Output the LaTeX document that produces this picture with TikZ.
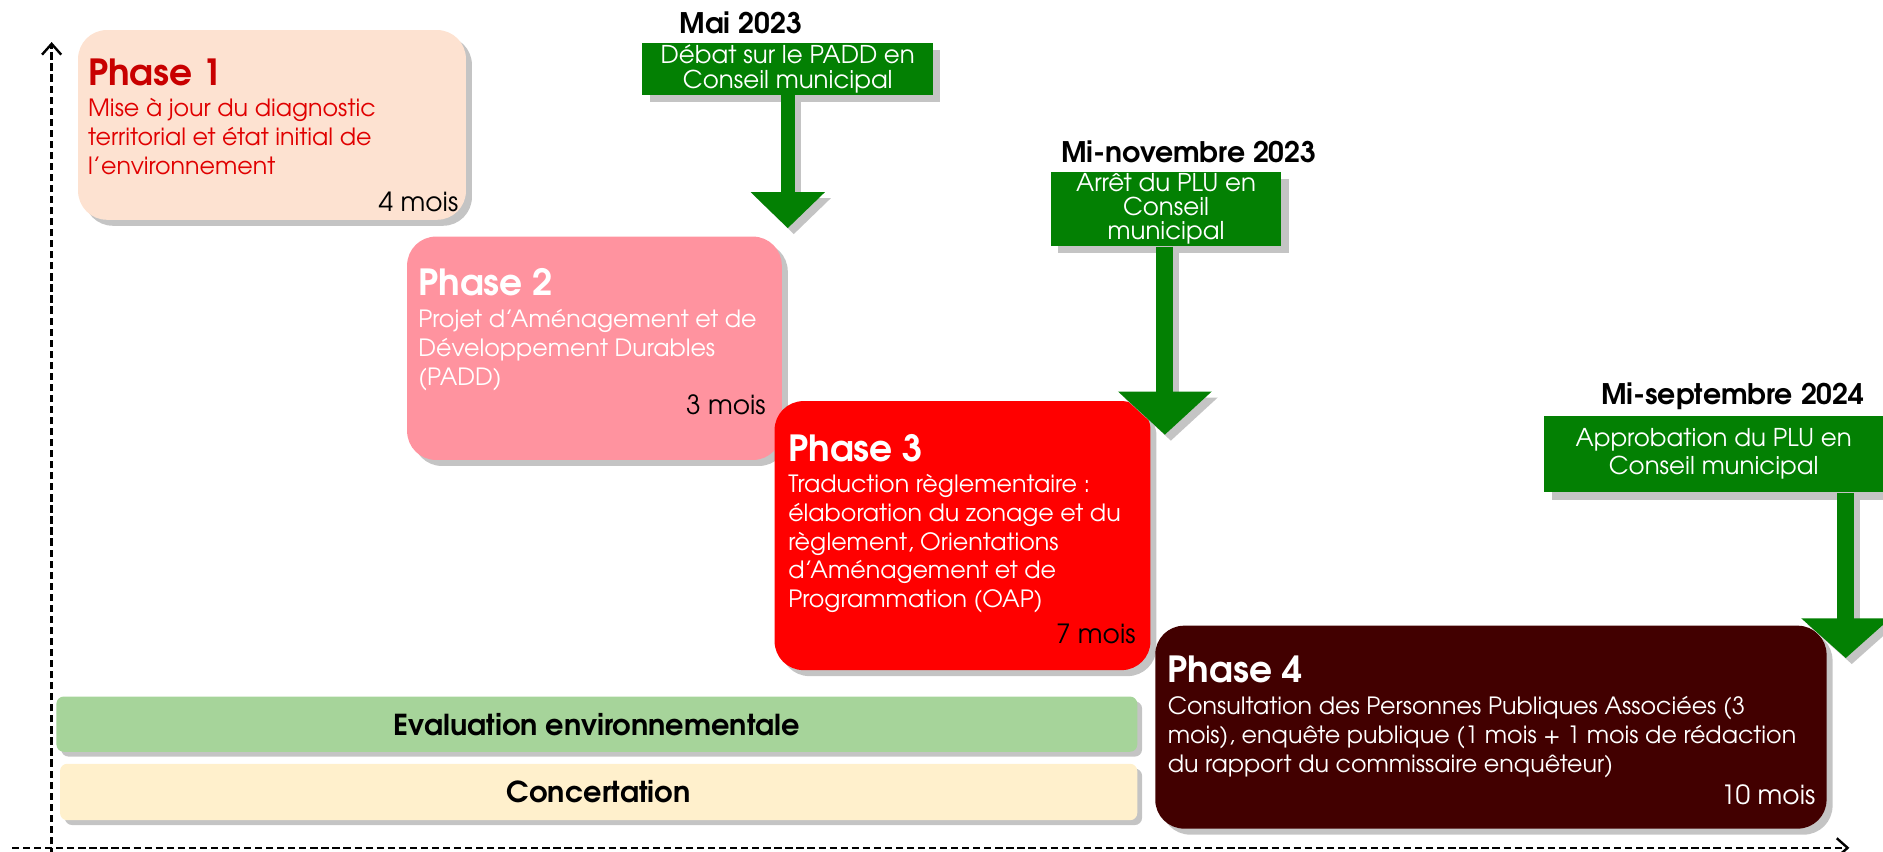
\documentclass[tikz,border=0pt]{standalone}
\usepackage{fontspec}
\setmainfont{TeX Gyre Adventor}
\usetikzlibrary{arrows.meta,shadows}
\definecolor{pone}{HTML}{FDE2D1}
\definecolor{ponetitle}{HTML}{C80000}
\definecolor{ponebody}{HTML}{E00000}
\definecolor{ptwo}{HTML}{FF939F}
\definecolor{pthree}{HTML}{FF0000}
\definecolor{pfour}{HTML}{420000}
\definecolor{gbox}{HTML}{038003}
\definecolor{evalc}{HTML}{A6D49A}
\definecolor{concc}{HTML}{FFF0CC}
\definecolor{shadowc}{HTML}{C4C4C4}
\newcommand\mylines[2][l]{\begin{tabular}[t]{@{}#1@{}}#2\end{tabular}}
\tikzset{
  phasebox/.style={rounded corners=12pt, inner sep=0pt,
    drop shadow={shadow xshift=2.5pt, shadow yshift=-2.5pt, fill=shadowc, opacity=1}},
  barbox/.style={rounded corners=3pt, inner sep=0pt, minimum width=450pt, minimum height=23pt,
    font=\fontsize{12}{14}\selectfont\bfseries,
    drop shadow={shadow xshift=2pt, shadow yshift=-2pt, fill=shadowc, opacity=1}},
  ttl/.style={inner sep=0pt, font=\fontsize{15}{18}\selectfont\bfseries},
  bdy/.style={inner sep=0pt, font=\fontsize{9.9}{12}\selectfont},
  mois/.style={inner sep=0pt, font=\fontsize{11}{13}\selectfont},
  datelbl/.style={inner sep=0pt, font=\fontsize{11.8}{14}\selectfont\bfseries},
  greenbox/.style={fill=gbox, text=white, inner sep=0pt, align=center,
    font=\fontsize{10.2}{10.5}\selectfont,
    drop shadow={shadow xshift=3pt, shadow yshift=-3pt, fill=shadowc, opacity=1}},
  axis/.style={line width=1pt, dash pattern=on 3pt off 1.6pt, -{Straight Barb[length=4.5pt,width=8pt]}},
}
\begin{document}
\begin{tikzpicture}[x=0.5pt,y=-0.5pt]
\useasboundingbox (0,0) rectangle (1568,709);
% axes
\coordinate (ytop) at (43,35);
\coordinate (ybot) at (43,712);
\coordinate (xleft) at (10,706);
\coordinate (xright) at (1540,706);
\draw[axis] (ybot) -- (ytop);
\draw[axis] (xleft) -- (xright);

% bars
\node[barbox, fill=evalc, minimum width=450pt, minimum height=23pt] (eval) at (497,603) {Evaluation environnementale};
\node[barbox, fill=concc, minimum width=448.5pt, minimum height=23.5pt] (conc) at (498.5,659.5) {Concertation};

% Phase 1
\node[phasebox, fill=pone, minimum width=161.5pt, minimum height=79pt] (ph1) at (226.5,104) {};
\node[ttl, text=ponetitle, anchor=base west] (t1) at (73,71) {Phase 1};
\node[bdy, text=ponebody, anchor=base west] (b1) at (73,97) {\mylines{Mise à jour du diagnostic\\territorial et état initial de\\l’environnement}};
\node[mois, anchor=base east] (d1) at (382,176) {4 mois};

% Phase 2
\node[phasebox, fill=ptwo, minimum width=156pt, minimum height=93pt] (ph2) at (495,290) {};
\node[ttl, text=white, anchor=base west] (t2) at (348,246) {Phase 2};
\node[bdy, text=white, anchor=base west] (b2) at (348,273) {\mylines{Projet d’Aménagement et de\\Développement Durables\\(PADD)}};
\node[mois, anchor=base east] (d2) at (638,345) {3 mois};

% Phase 3
\node[phasebox, fill=pthree, minimum width=156.5pt, minimum height=112pt] (ph3) at (801.5,446) {};
\node[ttl, text=white, anchor=base west] (t3) at (656,384) {Phase 3};
\node[bdy, text=white, anchor=base west] (b3) at (656,410) {\mylines{Traduction règlementaire :\\élaboration du zonage et du\\règlement, Orientations\\d’Aménagement et de\\Programmation (OAP)}};
\node[mois, anchor=base east] (d3) at (946,536) {7 mois};

% Phase 4
\node[phasebox, fill=pfour, minimum width=279.5pt, minimum height=84.5pt] (ph4) at (1241.5,605.5) {};
\node[ttl, text=white, anchor=base west] (t4) at (972,568) {Phase 4};
\node[bdy, text=white, anchor=base west] (b4) at (972,595) {\mylines{Consultation des Personnes Publiques Associées (3\\mois), enquête publique (1 mois + 1 mois de rédaction\\du rapport du commissaire enquêteur)}};
\node[mois, text=white, anchor=base east] (d4) at (1512,670) {10 mois};

% Milestones
\node[datelbl, anchor=base] (m1) at (617,28) {Mai 2023};
\node[greenbox, minimum width=121pt, minimum height=21.5pt] (g1) at (656,57.5) {Débat sur le PADD en\\Conseil municipal};
\coordinate (a1) at (656,190);
\draw[line width=6pt, shadowc, -{Triangle[length=15pt,width=30pt]}, transform canvas={xshift=2.5pt,yshift=-2.5pt}] (g1.south) -- (a1);
\draw[line width=6pt, gbox, -{Triangle[length=15pt,width=30pt]}] (g1.south) -- (a1);

\node[datelbl, anchor=base] (m2) at (990,135) {Mi-novembre 2023};
\node[greenbox, minimum width=96pt, minimum height=31pt, font=\fontsize{10.2}{10}\selectfont] (g2) at (971,174) {Arrêt du PLU en\\Conseil\\municipal};
\coordinate (a2) at (970,362);
\draw[line width=7pt, shadowc, -{Triangle[length=18pt,width=38pt]}, transform canvas={xshift=2.5pt,yshift=-2.5pt}] (g2.south -| a2) -- (a2);
\draw[line width=7pt, gbox, -{Triangle[length=18pt,width=38pt]}] (g2.south -| a2) -- (a2);

\node[datelbl, anchor=base east] (m3) at (1553,337) {Mi-septembre 2024};
\node[greenbox, minimum width=141pt, minimum height=32pt, font=\fontsize{10.2}{11.5}\selectfont] (g3) at (1427,378) {Approbation du PLU en\\Conseil municipal};
\coordinate (a3) at (1537,548);
\draw[line width=7pt, shadowc, -{Triangle[length=16.5pt,width=36pt]}, transform canvas={xshift=2.5pt,yshift=-2.5pt}] (g3.south -| a3) -- (a3);
\draw[line width=7pt, gbox, -{Triangle[length=16.5pt,width=36pt]}] (g3.south -| a3) -- (a3);
\end{tikzpicture}
\end{document}
